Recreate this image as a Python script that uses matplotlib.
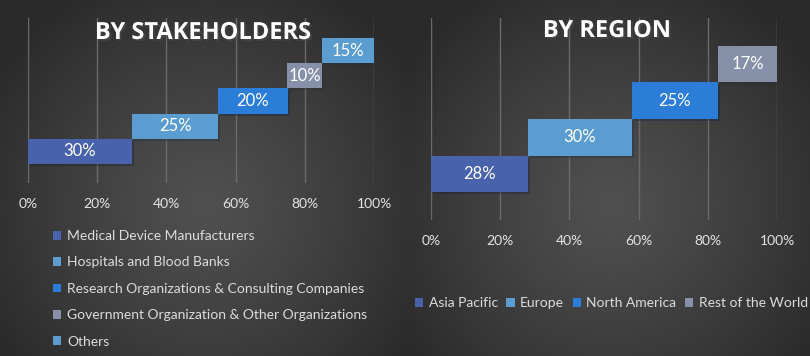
import numpy as np
import matplotlib
matplotlib.use("Agg")
import matplotlib.pyplot as plt
from matplotlib.patches import Patch
import matplotlib.patheffects as pe

# ---------------- data ----------------
stake_labels = ["Medical Device Manufacturers", "Hospitals and Blood Banks",
                "Research Organizations & Consulting Companies",
                "Government Organization & Other Organizations", "Others"]
stake_values = [30, 25, 20, 10, 15]
stake_colors = ["#4862ab", "#5b9dd0", "#2b7dd8", "#8690a8", "#5b9dd0"]

region_labels = ["Asia Pacific", "Europe", "North America", "Rest of the World"]
region_values = [28, 30, 25, 17]
region_colors = ["#4862ab", "#5b9dd0", "#2b7dd8", "#8690a8"]

tick_values = [0, 20, 40, 60, 80, 100]
tick_labels = ["0%", "20%", "40%", "60%", "80%", "100%"]

FONT = "Lato"
W, H = 810, 356
fig = plt.figure(figsize=(W / 100, H / 100), dpi=100)

# ---------------- background (radial gradients) ----------------
bg = fig.add_axes([0, 0, 1, 1])
yy, xx = np.mgrid[0:H, 0:W]
d1 = np.hypot(xx - 205, (yy - 205) * 1.0)
d2 = np.hypot(xx - 610, (yy - 205) * 1.0)
d = np.minimum(d1, d2)
t = np.clip(d / 250.0, 0, 1) ** 1.2
c_in = np.array([0x50, 0x50, 0x50]) / 255
c_out = np.array([0x2a, 0x2a, 0x2a]) / 255
img = c_in[None, None, :] * (1 - t[..., None]) + c_out[None, None, :] * t[..., None]
bg.imshow(img, extent=[0, W, H, 0], aspect="auto")
bg.set_xlim(0, W)
bg.set_ylim(H, 0)
bg.axis("off")


def panel(rect, values, colors, labels, title, ylim, title_xy):
    ax = fig.add_axes(rect)
    ax.set_facecolor("none")
    lefts = np.concatenate([[0], np.cumsum(values)[:-1]])
    ys = np.arange(len(values))
    bars = ax.barh(ys, values, left=lefts, height=1.0, color=colors,
                   label=None, zorder=3)
    for b in bars:
        b.set_path_effects([pe.SimplePatchShadow(offset=(1.5, -1.5), alpha=0.35),
                            pe.Normal()])
    for y, l, v in zip(ys, lefts, values):
        ax.text(l + v / 2, y, f"{v}%", ha="center", va="center",
                color="white", fontsize=12, family=FONT, zorder=4)
    ax.set_xlim(0, 100)
    ax.set_ylim(*ylim)
    ax.set_xticks(tick_values)
    ax.set_xticklabels(tick_labels)
    ax.set_yticks([])
    ax.tick_params(axis="x", length=0, pad=11, labelsize=10, labelcolor="#e4e4e4")
    for lab in ax.get_xticklabels():
        lab.set_family(FONT)
    for xv in tick_values:
        ax.axvline(xv, color="#6a6a6a", lw=1.0, zorder=1)
    for s in ax.spines.values():
        s.set_visible(False)
    fig.text(title_xy[0] / W, 1 - title_xy[1] / H, title, ha="center", va="center",
             color="white", fontsize=17, fontweight="bold", family="Open Sans",
             path_effects=[pe.withSimplePatchShadow(offset=(1.5, -1.5), alpha=0.5)])
    handles = [Patch(facecolor=c, edgecolor="none") for c in colors]
    return ax, handles


axL, hL = panel([28 / W, 1 - 183 / H, 346 / W, 165 / H], stake_values, stake_colors,
                stake_labels, "BY STAKEHOLDERS", (-1.254, 5.294), (203, 33))
axR, hR = panel([431 / W, 1 - 220 / H, 346 / W, 202 / H], region_values, region_colors,
                region_labels, "BY REGION", (-1.267, 4.267), (607, 31))

legL = fig.legend(hL, stake_labels, loc="upper left",
                  bbox_to_anchor=(53 / W, 1 - 230 / H), frameon=False, ncol=1,
                  borderpad=0, borderaxespad=0, handlelength=0.6, handleheight=0.6,
                  handletextpad=0.4, labelspacing=1.04,
                  prop={"family": FONT, "size": 10})
for tx in legL.get_texts():
    tx.set_color("#dcdcdc")

legR = fig.legend(hR, region_labels, loc="upper left",
                  bbox_to_anchor=(415 / W, 1 - 297 / H), frameon=False, ncol=4,
                  borderpad=0, borderaxespad=0, handlelength=0.6, handleheight=0.6,
                  handletextpad=0.4, columnspacing=0.6,
                  prop={"family": FONT, "size": 10})
for tx in legR.get_texts():
    tx.set_color("#dcdcdc")

fig.savefig("out.png", dpi=100)
